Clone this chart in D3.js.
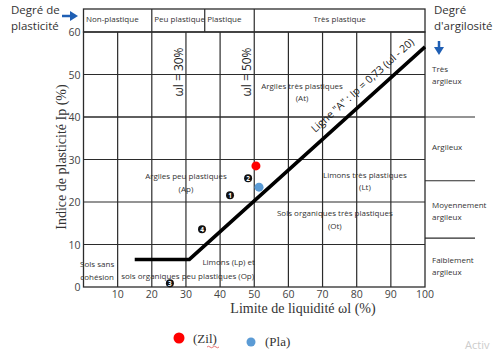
<!DOCTYPE html>
<html><head><meta charset="utf-8">
<script src="https://cdn.jsdelivr.net/npm/d3@7"></script>
<style>
body{margin:0;background:#fff;}
svg{display:block;font-family:"Open Sans","Liberation Sans",sans-serif;}
.lbl{font-size:8px;fill:#333;}
.tick{font-size:10.5px;fill:#444;}
.serif{font-family:"Liberation Serif","DejaVu Serif",serif;fill:#333;}
</style></head>
<body><div id="chart"></div>
<script>
// axes
var xTicks=[0,10,20,30,40,50,60,70,80,90,100];
var yTicks=[0,10,20,30,40,50,60];
// plasticity header bands (wl limits)
var plastBands=[{name:"Non-plastique",from:0,to:20},{name:"Peu plastique",from:20,to:35.5},
  {name:"Plastique",from:35.5,to:50},{name:"Très plastique",from:50,to:100}];
// clay degree separators (Ip) and labels
var clayCuts=[40,25,11.5];
var clayLabels=[{lines:["Très","argileux"],ip:50},{lines:["Argileux"],ip:33},
  {lines:["Moyennement","argileux"],ip:18},{lines:["Faiblement","argileux"],ip:5}];
// A-line as drawn
var aLine=[[15,6.5],[31,6.5],[100,56.5]];
// zone labels
var zones=[
  {t:["Argiles très plastiques","(At)"],x:64,y:47.3},
  {t:["Argiles peu plastiques","(Ap)"],x:30,y:26.1},
  {t:["Limons très plastiques","(Lt)"],x:82.4,y:26.4},
  {t:["Sols organiques très plastiques","(Ot)"],x:73.6,y:17.4},
  {t:["Limons (Lp) et"],x:42.5,y:5.9},
  {t:["sols organiques peu plastiques (Op)"],x:30.5,y:2.6},
  {t:["Sols sans","cohésion"],x:4,y:5.4}
];
// numbered samples
var numbered=[{n:"1",x:42.9,y:21.6},{n:"2",x:48.2,y:25.6},{n:"3",x:25.3,y:0.9},{n:"4",x:34.7,y:13.6}];
// sample points
var samples=[{name:"(Zil)",x:50.5,y:28.5,color:"#ff0000"},{name:"(Pla)",x:51.4,y:23.5,color:"#5b9bd5"}];

var W=497,H=351;
var svg=d3.select("#chart").append("svg").attr("width",W).attr("height",H);
var x=d3.scaleLinear().domain([0,100]).range([83.5,425]);
var y=d3.scaleLinear().domain([0,60]).range([287,32]);
var ink="#2b2b2b";

// grid
var g=svg.append("g");
xTicks.slice(1,-1).forEach(function(v){
  g.append("line").attr("x1",x(v)).attr("x2",x(v)).attr("y1",y(0)).attr("y2",y(60)).attr("stroke",ink).attr("stroke-width",1.2);
});
yTicks.slice(1,-1).forEach(function(v){
  g.append("line").attr("x1",x(0)).attr("x2",x(100)).attr("y1",y(v)).attr("y2",y(v)).attr("stroke",ink).attr("stroke-width",1.2);
});
g.append("rect").attr("x",x(0)).attr("y",y(60)).attr("width",x(100)-x(0)).attr("height",y(0)-y(60))
  .attr("fill","none").attr("stroke",ink).attr("stroke-width",1.3);

// header band
var hy0=9;
g.append("rect").attr("x",x(0)).attr("y",hy0).attr("width",x(100)-x(0)).attr("height",y(60)-hy0)
  .attr("fill","none").attr("stroke",ink).attr("stroke-width",1.3);
plastBands.forEach(function(b,i){
  if(i>0) g.append("line").attr("x1",x(b.from)).attr("x2",x(b.from)).attr("y1",hy0).attr("y2",y(60)).attr("stroke",ink).attr("stroke-width",1.2);
  var tx=i==3?(x(b.from)+x(b.to))/2:x(b.from)+2.5;
  g.append("text").attr("class","lbl").attr("x",tx).attr("y",hy0+13).attr("text-anchor",i==3?"middle":"start").text(b.name);
});

// clay degree column
clayCuts.forEach(function(v,i){
  g.append("line").attr("x1",i==0?x(0):x(100)).attr("x2",475).attr("y1",y(v)).attr("y2",y(v)).attr("stroke",ink).attr("stroke-width",1.2);
});
clayLabels.forEach(function(c){
  var t=g.append("text").attr("class","lbl").attr("x",432).attr("y",y(c.ip)-(c.lines.length-1)*6+3);
  c.lines.forEach(function(l,i){t.append("tspan").attr("x",432).attr("dy",i?12.5:0).text(l);});
});

// tick labels
yTicks.forEach(function(v){
  svg.append("text").attr("class","tick").attr("x",x(0)-3).attr("y",y(v)+4).attr("text-anchor","end").text(v);
});
xTicks.slice(1).forEach(function(v){
  svg.append("text").attr("class","tick").attr("x",x(v)).attr("y",y(0)+10.5).attr("text-anchor","middle").text(v);
});

// wl = 30% / 50% labels
[[30,"ωl = 30%"],[50,"ωl = 50%"]].forEach(function(d){
  svg.append("text").attr("transform","translate("+(x(d[0])-3)+","+72+") rotate(-90)")
    .attr("text-anchor","middle").style("font-size","12px").attr("fill","#222").text(d[1]);
});

// zone labels
zones.forEach(function(z){
  var t=svg.append("text").attr("class","lbl").attr("text-anchor","middle").attr("x",x(z.x)).attr("y",y(z.y)+3);
  z.t.forEach(function(l,i){t.append("tspan").attr("x",x(z.x)).attr("dy",i?12.5:0).text(l);});
});

// A-line
svg.append("path").datum(aLine).attr("fill","none").attr("stroke","#000").attr("stroke-width",3.5)
  .attr("d",d3.line().x(function(d){return x(d[0]);}).y(function(d){return y(d[1]);}));
var p1=aLine[1],p2=aLine[2];
var ang=Math.atan2(y(p2[1])-y(p1[1]),x(p2[0])-x(p1[0]))*180/Math.PI;
svg.append("text").attr("transform","translate(365,88) rotate("+ang+")")
  .attr("text-anchor","middle").style("font-size","10.5px").attr("fill","#222")
  .text("Ligne \"A\" : Ip = 0,73 (ωl - 20)");

// numbered markers
numbered.forEach(function(d){
  svg.append("circle").attr("cx",x(d.x)).attr("cy",y(d.y)).attr("r",4).attr("fill","#111");
  svg.append("text").attr("x",x(d.x)).attr("y",y(d.y)+2.5).attr("text-anchor","middle").style("font-size","6.5px")
    .style("font-weight","bold").attr("fill","#fff").text(d.n);
});

// samples
svg.selectAll("circle.pt").data(samples).enter().append("circle").attr("class","pt")
  .attr("cx",function(d){return x(d.x);}).attr("cy",function(d){return y(d.y);}).attr("r",4.5)
  .attr("fill",function(d){return d.color;});

// axis titles
svg.append("text").attr("class","serif").attr("transform","translate(66,157) rotate(-90)").attr("text-anchor","middle")
  .style("font-size","14px").text("Indice de plasticité Ip (%)");
svg.append("text").attr("class","serif").attr("x",303).attr("y",313).attr("text-anchor","middle")
  .style("font-size","14px").text("Limite de liquidité ωl (%)");

// corner headings
var hl=svg.append("text").attr("x",11).attr("y",14).style("font-size","11.5px").attr("fill","#333");
hl.append("tspan").attr("x",11).text("Degré de");
hl.append("tspan").attr("x",11).attr("dy",15.5).text("plasticité");
var hr=svg.append("text").attr("x",434).attr("y",14).style("font-size","11.5px").attr("fill","#333");
hr.append("tspan").attr("x",434).text("Degré");
hr.append("tspan").attr("x",434).attr("dy",15.5).text("d'argilosité");
var blue="#1f5fb4";
svg.append("line").attr("x1",62).attr("x2",72).attr("y1",16).attr("y2",16).attr("stroke",blue).attr("stroke-width",2.5);
svg.append("path").attr("d","M70,11 L78,16 L70,21 Z").attr("fill",blue);
svg.append("line").attr("x1",439).attr("x2",439).attr("y1",41).attr("y2",49).attr("stroke",blue).attr("stroke-width",2.5);
svg.append("path").attr("d","M434,47 L439,55 L444,47 Z").attr("fill",blue);

// legend
var lx=[179,251];
samples.forEach(function(d,i){
  svg.append("circle").attr("cx",lx[i]).attr("cy",i?342:338).attr("r",i?4.5:5.5).attr("fill",d.color);
  svg.append("text").attr("class","serif").attr("x",lx[i]+14).attr("y",i?346:343).style("font-size","13px").attr("fill","#222").text(d.name);
});
svg.append("path").attr("d","M207,347 q1.5,-1.5 3,0 t3,0 t3,0 t3,0").attr("fill","none").attr("stroke","#e05050").attr("stroke-width",0.8);
svg.append("text").attr("x",465).attr("y",349).style("font-size","11px").attr("fill","#ccc").text("Activ");
</script></body></html>
